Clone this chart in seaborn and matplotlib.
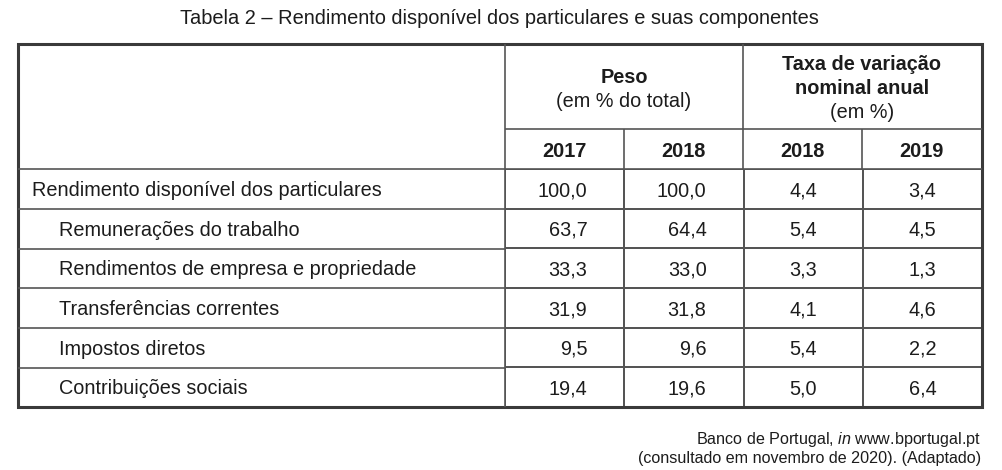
import numpy as np
import pandas as pd
import matplotlib
matplotlib.use("Agg")
import matplotlib.pyplot as plt
from matplotlib.colors import ListedColormap
import seaborn as sns

# data
row_labels = [
    "Rendimento disponível dos particulares",
    "Remunerações do trabalho",
    "Rendimentos de empresa e propriedade",
    "Transferências correntes",
    "Impostos diretos",
    "Contribuições sociais",
]
row_indent = [0, 1, 1, 1, 1, 1]
col_years = ["2017", "2018", "2018", "2019"]
peso_2017 = [100.0, 63.7, 33.3, 31.9, 9.5, 19.4]
peso_2018 = [100.0, 64.4, 33.0, 31.8, 9.6, 19.6]
taxa_2018 = [4.4, 5.4, 3.3, 4.1, 5.4, 5.0]
taxa_2019 = [3.4, 4.5, 1.3, 4.6, 2.2, 6.4]

title = "Tabela 2 – Rendimento disponível dos particulares e suas componentes"
source_1 = "Banco de Portugal, $\\it{in}$ www.bportugal.pt"
source_2 = "(consultado em novembro de 2020). (Adaptado)"

df = pd.DataFrame(
    {"p17": peso_2017, "p18": peso_2018, "t18": taxa_2018, "t19": taxa_2019},
    index=row_labels,
)
labels = df.apply(lambda c: c.map(lambda v: f"{v:.1f}".replace(".", ","))).values

sns.set_theme(style="white")
plt.rcParams["font.family"] = ["Liberation Sans", "DejaVu Sans"]
plt.rcParams["mathtext.fontset"] = "custom"
plt.rcParams["mathtext.rm"] = "Liberation Sans"
plt.rcParams["mathtext.it"] = "Liberation Sans:italic"

W, H = 1003, 470
TXT = "#1c1c1c"
LINE = "#555555"
FS = 14.3
DY = 1.8  # small downward nudge for text

fig = plt.figure(figsize=(W / 100, H / 100), dpi=100)
fig.patch.set_facecolor("white")

# table body as a heatmap
x0, x1, y0, y1 = 505, 982, 169, 407
hax = fig.add_axes([x0 / W, 1 - y1 / H, (x1 - x0) / W, (y1 - y0) / H])
hax.set_zorder(0)
sns.heatmap(
    df, ax=hax, annot=labels, fmt="", cbar=False,
    cmap=ListedColormap(["white"]), linewidths=1.2, linecolor=LINE,
    annot_kws={"size": FS, "color": TXT},
)
hax.set_xticks([])
hax.set_yticks([])
hax.set_xlabel("")
hax.set_ylabel("")
cell_h = (y1 - y0) / len(row_labels)
for t in hax.texts:
    cx, cy = t.get_position()
    t.set_y(cy + DY / cell_h)
    if cx < 2:
        t.set_ha("right")
        t.set_x(cx - 0.5 + 0.69)

# frame, headers, labels
ax = fig.add_axes([0, 0, 1, 1])
ax.set_zorder(1)
ax.patch.set_alpha(0)
ax.set_xlim(0, W)
ax.set_ylim(H, 0)
ax.axis("off")

ax.vlines(505, 44, 407, color=LINE, lw=1.2)
ax.vlines(743, 44, 169, color=LINE, lw=1.2)
ax.vlines([624, 862], 129, 169, color=LINE, lw=1.2)
ax.hlines(129, 505, 982, color=LINE, lw=1.2)
ax.hlines(169, 18, 982, color=LINE, lw=1.2)
ax.hlines([209, 249, 288, 328, 368], 18, 505, color=LINE, lw=1.2)
ax.add_patch(plt.Rectangle((18, 44), 964, 363, fill=False, ec="#3a3a3a", lw=2.2))

ax.text(499.5, 17 + DY, title, ha="center", va="center", fontsize=14.4, color=TXT)

ax.text(624, 76 + DY, "Peso", ha="center", va="center", fontsize=FS, weight="bold", color=TXT)
ax.text(624, 100 + DY, "(em % do total)", ha="center", va="center", fontsize=FS, color=TXT)
ax.text(862, 63 + DY, "Taxa de variação", ha="center", va="center", fontsize=FS, weight="bold", color=TXT)
ax.text(862, 87 + DY, "nominal anual", ha="center", va="center", fontsize=FS, weight="bold", color=TXT)
ax.text(862, 111 + DY, "(em %)", ha="center", va="center", fontsize=FS, color=TXT)

col_centers = [564.5, 683.5, 802.5, 921.5]
for xc, yr in zip(col_centers, col_years):
    ax.text(xc, 150 + DY, yr, ha="center", va="center", fontsize=FS, weight="bold", color=TXT)

row_centers = np.linspace(y0, y1, len(row_labels) + 1)
row_centers = (row_centers[:-1] + row_centers[1:]) / 2
for yc, lab, ind in zip(row_centers, row_labels, row_indent):
    ax.text(32 + 27 * ind, yc + DY, lab, ha="left", va="center", fontsize=FS, color=TXT)

ax.text(981, 438 + DY, source_1, ha="right", va="center", fontsize=11.6, color=TXT)
ax.text(981, 457 + DY, source_2, ha="right", va="center", fontsize=11.6, color=TXT)

fig.savefig("out.png", dpi=100, facecolor="white")
